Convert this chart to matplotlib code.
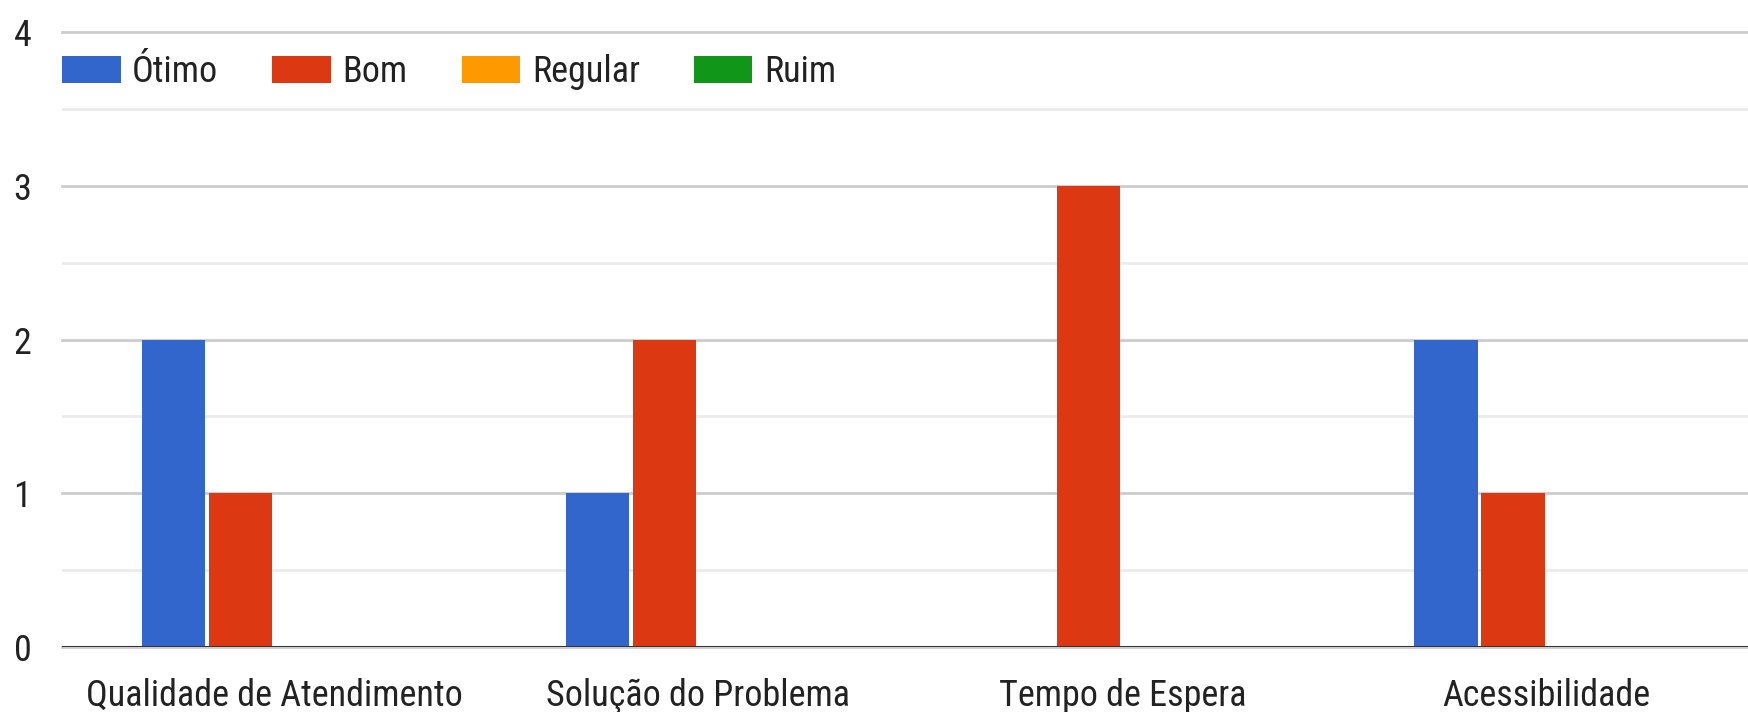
import numpy as np
import matplotlib
matplotlib.use('Agg')
import matplotlib.pyplot as plt

plt.rcParams['font.family'] = ['Roboto Condensed', 'Archivo Narrow', 'Liberation Sans', 'DejaVu Sans']

# dados
categorias = ['Qualidade de Atendimento', 'Solução do Problema', 'Tempo de Espera', 'Acessibilidade']
series = ['Ótimo', 'Bom', 'Regular', 'Ruim']
otimo = [2, 1, 0, 2]
bom = [1, 2, 3, 1]
regular = [0, 0, 0, 0]
ruim = [0, 0, 0, 0]
cores = ['#3366cc', '#dc3912', '#ff9900', '#109618']

valores = [otimo, bom, regular, ruim]

fig = plt.figure(figsize=(17.48, 7.12), dpi=100)
ax = fig.add_axes([0.0355, 0.0913, 0.9645, 0.8637])

x = np.arange(len(categorias))
passo = 0.158
largura = 0.149
for i, (nome, vals, cor) in enumerate(zip(series, valores, cores)):
    ax.bar(x + (i - 1.5) * passo, vals, width=largura, color=cor,
           label=nome, zorder=2)

ax.set_xlim(-0.5, 3.475)
ax.set_ylim(0, 4)
ax.set_yticks([0, 1, 2, 3, 4])
ax.set_yticks([0.5, 1.5, 2.5, 3.5], minor=True)
ax.grid(True, which='major', axis='y', color='#cccccc', linewidth=2, zorder=0)
ax.grid(True, which='minor', axis='y', color='#ebebeb', linewidth=2, zorder=0)
for gl in ax.get_ygridlines():
    gl.set_clip_on(False)
ax.axhline(0, color='#333333', linewidth=2.2, zorder=3)

for s in ax.spines.values():
    s.set_visible(False)
ax.tick_params(axis='both', which='both', length=0)
ax.tick_params(axis='y', pad=22, labelsize=26, labelcolor='#222222')
ax.tick_params(axis='x', pad=22, labelsize=26, labelcolor='#222222')
ax.set_xticks(x)
ax.set_xticklabels(categorias)

ax.legend(loc='center left', bbox_to_anchor=(0.0, 0.935), ncol=4,
          frameon=False, fontsize=26, borderpad=0, borderaxespad=0,
          handlelength=1.62, handleheight=0.78, handletextpad=0.32,
          columnspacing=1.5, labelcolor='#222222')

fig.savefig('out.png', dpi=100)
